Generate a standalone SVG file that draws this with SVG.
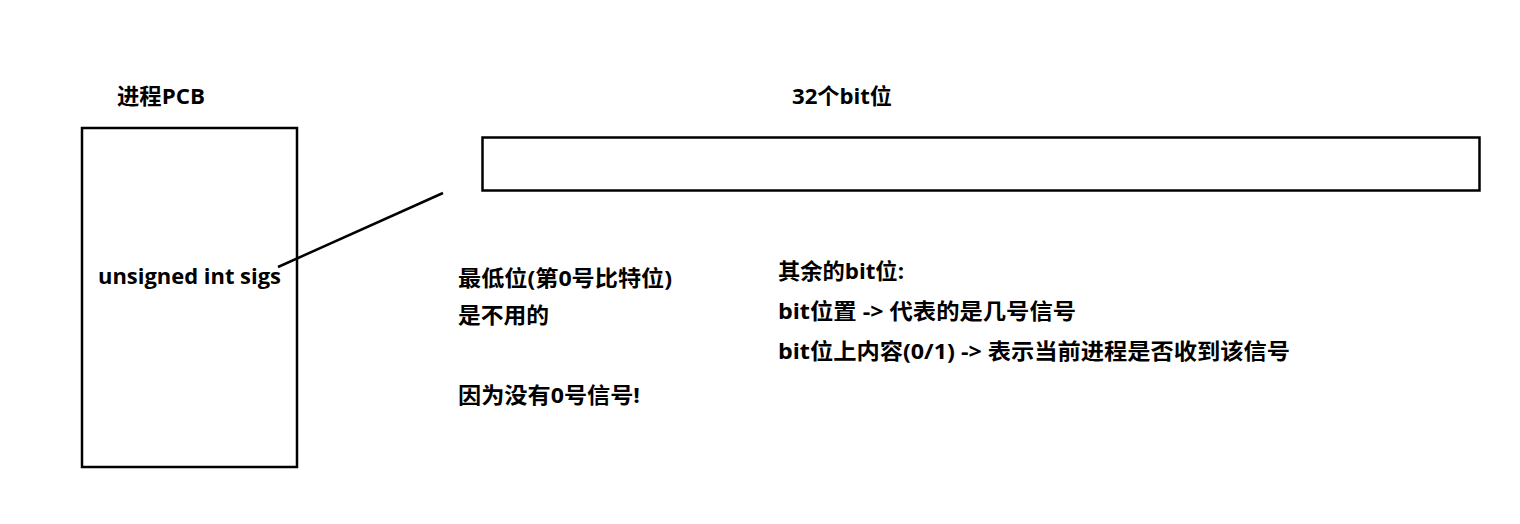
<svg xmlns="http://www.w3.org/2000/svg" width="1520" height="524" viewBox="0 0 1520 524">
<style>
.t{font-family:"Open Sans","Noto Sans CJK SC",sans-serif;font-weight:bold;font-size:22px;fill:#000}
.box{fill:#fff;stroke:#000;stroke-width:2.5}
</style>
<rect width="1520" height="524" fill="#fff"/>
<g id="pcb">
<text class="t" x="117" y="104" textLength="88" lengthAdjust="spacingAndGlyphs">进程PCB</text>
<rect class="box" x="82" y="128" width="215" height="339"/>
<text class="t" x="98" y="284" textLength="183" lengthAdjust="spacingAndGlyphs">unsigned int sigs</text>
</g>
<g id="bits">
<text class="t" x="792" y="104" textLength="100" lengthAdjust="spacingAndGlyphs">32个bit位</text>
<rect class="box" x="482.5" y="137.5" width="997" height="53" stroke-width="3"/>
</g>
<g id="note-low">
<text class="t" x="458" y="286" textLength="214" lengthAdjust="spacingAndGlyphs">最低位(第0号比特位)</text>
<text class="t" x="458" y="323" textLength="91" lengthAdjust="spacingAndGlyphs">是不用的</text>
<text class="t" x="458" y="403" textLength="182" lengthAdjust="spacingAndGlyphs">因为没有0号信号!</text>
</g>
<g id="note-rest">
<text class="t" x="778" y="279" textLength="126" lengthAdjust="spacingAndGlyphs">其余的bit位:</text>
<text class="t" x="778" y="319" textLength="298" lengthAdjust="spacingAndGlyphs">bit位置 -&gt; 代表的是几号信号</text>
<text class="t" x="778" y="359" textLength="512" lengthAdjust="spacingAndGlyphs">bit位上内容(0/1) -&gt; 表示当前进程是否收到该信号</text>
</g>
<g id="connectors">
<line x1="278" y1="267" x2="443" y2="193" stroke="#000" stroke-width="2.5"/>
</g>
</svg>
